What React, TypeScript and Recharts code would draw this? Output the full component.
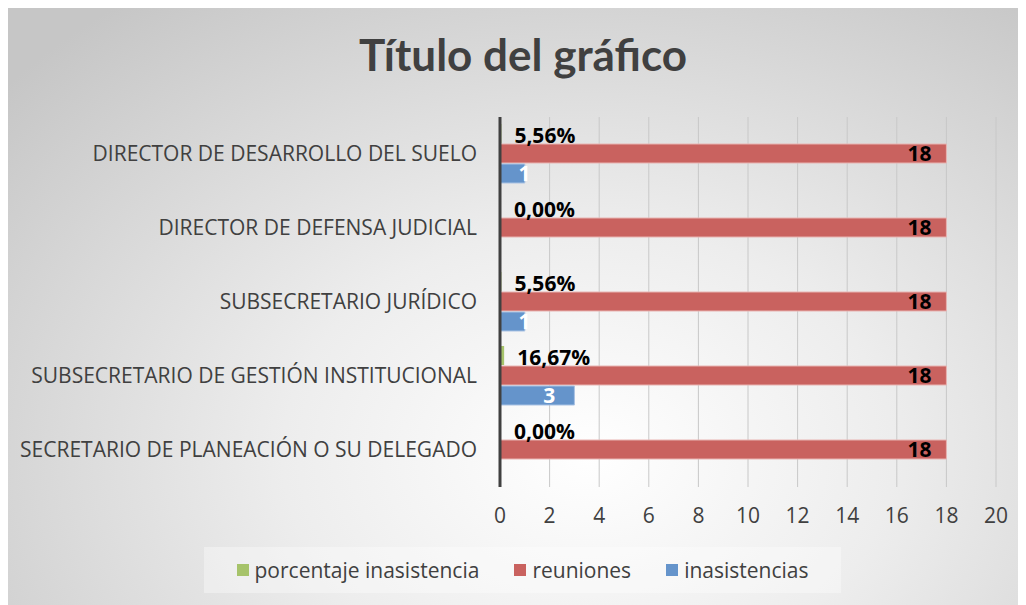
import { BarChart, Bar, XAxis, YAxis, CartesianGrid, Legend, LabelList } from 'recharts';

const categories = [
  'DIRECTOR DE DESARROLLO DEL SUELO',
  'DIRECTOR DE DEFENSA JUDICIAL',
  'SUBSECRETARIO JURÍDICO',
  'SUBSECRETARIO DE GESTIÓN INSTITUCIONAL',
  'SECRETARIO DE PLANEACIÓN O SU DELEGADO',
];
const porcentaje = [0.0556, 0, 0.0556, 0.1667, 0];
const reuniones = [18, 18, 18, 18, 18];
const inasistencias = [1, null, 1, 3, null];
const xTicks = [0, 2, 4, 6, 8, 10, 12, 14, 16, 18, 20];

const data = categories.map((name, i) => ({
  name,
  porcentaje: porcentaje[i],
  reuniones: reuniones[i],
  inasistencias: inasistencias[i],
}));

const FONT = '"Open Sans", Lato, sans-serif';
const TEXT = '#404040';

const legendItems = [
  { label: 'porcentaje inasistencia', color: '#a6c36a' },
  { label: 'reuniones', color: '#c9625f' },
  { label: 'inasistencias', color: '#6594cb' },
];

function LegendBox() {
  return (
    <div
      style={{
        width: '100%',
        height: '100%',
        background: 'rgba(255,255,255,0.35)',
        display: 'flex',
        alignItems: 'center',
        justifyContent: 'center',
        gap: 35,
        fontFamily: FONT,
        fontSize: 21,
        color: TEXT,
      }}
    >
      {legendItems.map((it) => (
        <div key={it.label} style={{ display: 'flex', alignItems: 'center', gap: 6 }}>
          <span style={{ width: 12, height: 12, background: it.color, display: 'inline-block' }} />
          <span>{it.label}</span>
        </div>
      ))}
    </div>
  );
}

const pct = (v: any) => (Number(v) * 100).toFixed(2).replace('.', ',') + '%';
const labelStyle = { fontSize: 21, fontWeight: 700, fontFamily: FONT };

export default function App() {
  return (
    <div
      style={{
        position: 'relative',
        width: 1018,
        height: 601,
        marginTop: -4,
        background:
          'radial-gradient(ellipse 75% 95% at 57% 75%, #ffffff 0%, #ededed 40%, #c6c6c6 100%)',
        fontFamily: FONT,
      }}
    >
      <div
        style={{
          position: 'absolute',
          top: 24,
          left: 0,
          width: 1030,
          textAlign: 'center',
          fontSize: 44,
          fontWeight: 700,
          fontFamily: 'Lato, sans-serif',
          color: TEXT,
        }}
      >
        Título del gráfico
      </div>
      <BarChart
        width={1018}
        height={601}
        data={data}
        layout="vertical"
        margin={{ top: 113, right: 30, bottom: 78, left: 0 }}
        barCategoryGap={7}
        barGap={1}
      >
        <CartesianGrid horizontal={false} stroke="#c8c8c8" />
        <XAxis
          type="number"
          domain={[0, 20]}
          ticks={xTicks}
          axisLine={false}
          tickLine={false}
          tickSize={0}
          tickMargin={21}
          height={40}
          tick={{ fill: TEXT, fontSize: 21, fontFamily: FONT }}
        />
        <YAxis
          type="category"
          dataKey="name"
          width={492}
          axisLine={{ stroke: '#404040', strokeWidth: 3 }}
          tickLine={false}
          tickSize={0}
          tickMargin={23}
          tick={{ fill: TEXT, fontSize: 21, fontFamily: FONT }}
        />
        <Legend
          verticalAlign="middle"
          layout="horizontal"
          wrapperStyle={{ top: 543, left: 196, width: 637, height: 46 }}
          content={() => <LegendBox />}
        />
        <Bar
          dataKey="porcentaje"
          name="porcentaje inasistencia"
          fill="#a6c36a"
          minPointSize={1}
          isAnimationActive={false}
        >
          <LabelList
            dataKey="porcentaje"
            position="right"
            offset={13}
            dy={2}
            formatter={pct}
            style={{ ...labelStyle, fill: '#000' }}
          />
        </Bar>
        <Bar
          dataKey="reuniones"
          name="reuniones"
          fill="#c9625f"
          stroke="#e8b4b2"
          strokeWidth={1}
          isAnimationActive={false}
        >
          <LabelList
            dataKey="reuniones"
            position="insideRight"
            offset={15}
            style={{ ...labelStyle, fill: '#000' }}
          />
        </Bar>
        <Bar
          dataKey="inasistencias"
          name="inasistencias"
          fill="#6594cb"
          stroke="#a9c2e3"
          strokeWidth={1}
          isAnimationActive={false}
        >
          <LabelList
            dataKey="inasistencias"
            position="center"
            dx={12}
            style={{ ...labelStyle, fill: '#fff' }}
          />
        </Bar>
      </BarChart>
    </div>
  );
}
